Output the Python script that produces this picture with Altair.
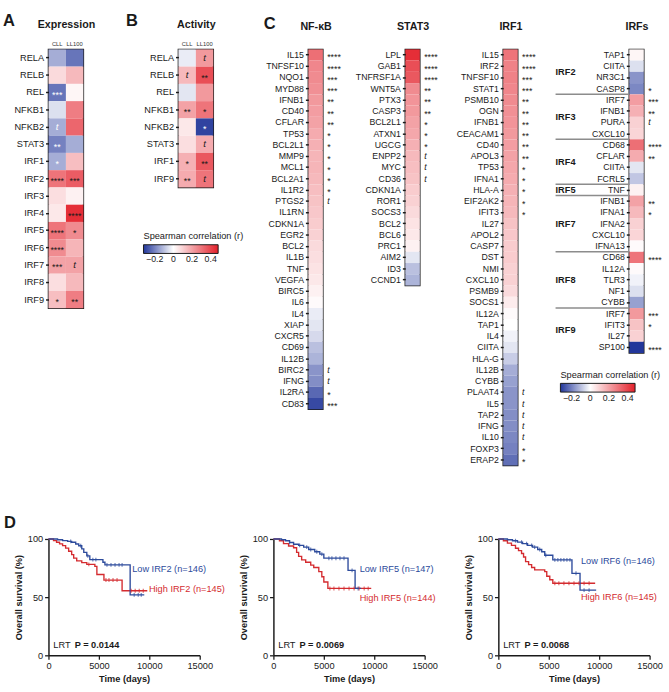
import altair as alt
import pandas as pd

FONT = "Liberation Sans"
INK = "#1a1a1a"
KM_BLUE = "#2d4b9c"
KM_RED = "#d42b2f"

# ---------------- Panel A : expression ----------------
A_genes = ["RELA", "RELB", "REL", "NFKB1", "NFKB2", "STAT3", "IRF1", "IRF2", "IRF3",
           "IRF4", "IRF5", "IRF6", "IRF7", "IRF8", "IRF9"]
A_cll_r = [-0.13, 0.08, -0.22, -0.05, -0.13, -0.20, -0.13, 0.30, 0.07, 0.05, 0.30, 0.25, 0.20, 0.07, 0.14]
A_ll100_r = [-0.22, 0.15, 0.02, 0.28, 0.33, -0.13, 0.14, 0.35, 0.03, 0.45, 0.25, 0.16, 0.20, 0.15, 0.28]
A_cll_sig = ["", "", "***", "", "t", "**", "*", "****", "", "", "****", "****", "***", "", "*"]
A_ll100_sig = ["", "", "", "", "", "", "", "***", "", "****", "*", "", "t", "", "**"]

# ---------------- Panel B : activity ----------------
B_genes = ["RELA", "RELB", "REL", "NFKB1", "NFKB2", "STAT3", "IRF1", "IRF9"]
B_cll_r = [-0.03, 0.15, -0.04, 0.20, 0.05, 0.07, 0.17, 0.18]
B_ll100_r = [0.22, 0.38, 0.22, 0.30, -0.30, 0.18, 0.36, 0.30]
B_cll_sig = ["", "t", "", "**", "", "", "*", "**"]
B_ll100_sig = ["t", "**", "", "*", "*", "t", "**", "t"]

# ---------------- Panel C : target genes ----------------
NF_genes = ["IL15", "TNFSF10", "NQO1", "MYD88", "IFNB1", "CD40", "CFLAR", "TP53", "BCL2L1", "MMP9",
            "MCL1", "BCL2A1", "IL1R2", "PTGS2", "IL1RN", "CDKN1A", "EGR2", "BCL2", "IL1B", "TNF",
            "VEGFA", "BIRC5", "IL6", "IL4", "XIAP", "CXCR5", "CD69", "IL12B", "BIRC2", "IFNG",
            "IL2RA", "CD83"]
NF_r = [0.31, 0.26, 0.25, 0.24, 0.22, 0.21, 0.20, 0.18, 0.17, 0.16, 0.16, 0.15, 0.14, 0.13, 0.12,
        0.11, 0.10, 0.08, 0.07, 0.06, 0.05, 0.03, 0.01, -0.03, -0.04, -0.06, -0.10, -0.12, -0.17,
        -0.18, -0.24, -0.29]
NF_sig = ["****", "****", "***", "***", "**", "**", "**", "*", "*", "*", "*", "*", "*", "t", "",
          "", "", "", "", "", "", "", "", "", "", "", "", "", "t", "t", "*", "***"]

ST_genes = ["LPL", "GAB1", "TNFRSF1A", "WNT5A", "PTX3", "CASP3", "BCL2L1", "ATXN1", "UGCG", "ENPP2",
            "MYC", "CD36", "CDKN1A", "ROR1", "SOCS3", "BCL2", "BCL6", "PRC1", "AIM2", "ID3", "CCND1"]
ST_r = [0.45, 0.38, 0.36, 0.25, 0.23, 0.22, 0.20, 0.19, 0.17, 0.15, 0.14, 0.13, 0.11, 0.10, 0.08,
        0.06, 0.05, 0.03, -0.04, -0.10, -0.12]
ST_sig = ["****", "****", "****", "**", "**", "**", "*", "*", "*", "t", "t", "t", "", "", "", "",
          "", "", "", "", ""]

IRF1_genes = ["IL15", "IRF2", "TNFSF10", "STAT1", "PSMB10", "OGN", "IFNB1", "CEACAM1", "CD40",
              "APOL3", "TP53", "IFNA1", "HLA-A", "EIF2AK2", "IFIT3", "IL27", "APOL2", "CASP7", "DST",
              "NMI", "CXCL10", "PSMB9", "SOCS1", "IL12A", "TAP1", "IL4", "CIITA", "HLA-G", "IL12B",
              "CYBB", "PLAAT4", "IL5", "TAP2", "IFNG", "IL10", "FOXP3", "ERAP2"]
IRF1_r = [0.30, 0.27, 0.27, 0.26, 0.25, 0.24, 0.23, 0.22, 0.21, 0.20, 0.19, 0.18, 0.17, 0.16, 0.15,
          0.13, 0.12, 0.11, 0.11, 0.10, 0.10, 0.08, 0.04, 0.01, 0.00, -0.02, -0.04, -0.08, -0.13,
          -0.15, -0.17, -0.17, -0.18, -0.18, -0.19, -0.20, -0.23]
IRF1_sig = ["****", "****", "***", "***", "**", "**", "**", "**", "**", "**", "*", "*", "*", "*", "*",
            "", "", "", "", "", "", "", "", "", "", "", "", "", "", "", "t", "t", "t", "t", "t", "*", "*"]

IRF_groups = ["IRF2", "IRF3", "IRF4", "IRF5", "IRF7", "IRF8", "IRF9"]
IRF_targets = [["TAP1", "CIITA", "NR3C1", "CASP8"], ["IRF7", "IFNB1", "PURA", "CXCL10"],
               ["CD68", "CFLAR", "CIITA", "FCRL5"], ["TNF"],
               ["IFNB1", "IFNA1", "IFNA2", "CXCL10", "IFNA13"],
               ["CD68", "IL12A", "TLR3", "NF1", "CYBB"], ["IRF7", "IFIT3", "IL27", "SP100"]]
IRF_r = [[0.02, -0.05, -0.17, -0.19], [0.21, 0.17, 0.10, 0.09], [0.31, 0.18, -0.04, -0.09], [0.03],
         [0.20, 0.15, 0.10, 0.09, 0.01], [0.30, 0.01, -0.02, -0.05, -0.15], [0.22, 0.13, 0.10, -0.32]]
IRF_sig = [["", "", "", "*"], ["***", "**", "t", ""], ["****", "**", "", ""], [""],
           ["**", "*", "", "", ""], ["****", "", "", "", ""], ["***", "*", "", "****"]]

# ---------------- Panel D : survival ----------------
D1_lo_t = [0, 900, 1400, 1900, 2300, 2700, 3000, 3300, 3500, 3800, 4100, 5400, 5600, 8100, 9500]
D1_lo_s = [100, 99.3, 98.6, 97.9, 97.2, 95.7, 94.2, 91.5, 88.5, 85.5, 82.3, 80, 77.8, 52, 52]
D1_hi_t = [0, 500, 800, 1100, 1400, 1700, 2000, 2300, 2500, 2800, 3300, 3800, 4600, 4800, 5500, 7300, 9800]
D1_hi_s = [100, 98.6, 97.2, 95.8, 94.3, 92.2, 89.5, 86.5, 83.5, 81.2, 79.7, 78.2, 76.5, 69.5, 64.7, 55.5, 55.5]
D1_lo_cens = [2200, 3200, 3900, 4400, 4700, 5800, 6200, 6600, 7000, 7300, 8500, 8900, 9200]
D1_hi_cens = [4000, 5700, 6000, 6400, 6800, 8200, 8600, 9000, 9400]

D2_lo_t = [0, 800, 1200, 1600, 2000, 2500, 3000, 3500, 4100, 4600, 5000, 7400, 8100, 8700]
D2_lo_s = [100, 99.3, 98.5, 97, 95.5, 94.5, 93, 91, 89, 87, 83.5, 73, 57.5, 57.5]
D2_hi_t = [0, 600, 1000, 1500, 2000, 2300, 2500, 2800, 3200, 3700, 4000, 4500, 4800, 5000, 5400, 9700]
D2_hi_s = [100, 98.5, 96, 94, 92.5, 88.5, 85, 82, 80, 77.5, 75.5, 72, 67.5, 63, 57.5, 57.5]
D2_lo_cens = [1600, 2600, 3300, 3700, 4300, 4800, 5500, 5800, 6200, 6600, 7000, 7800, 8400]
D2_hi_cens = [5600, 6000, 6500, 7000, 7500, 8000, 8500, 9000, 9400]

D3_lo_t = [0, 900, 1400, 1900, 2400, 2900, 3400, 3900, 4300, 4600, 5400, 7300, 8100, 9700]
D3_lo_s = [100, 99.3, 98.5, 97.3, 96, 94.5, 93, 91, 89, 86, 82, 70.5, 56, 56]
D3_hi_t = [0, 500, 900, 1300, 1700, 2000, 2300, 2500, 2700, 3000, 3300, 3600, 4600, 4800, 5100, 5400, 9600]
D3_hi_s = [100, 98.5, 96.5, 94.5, 92, 90, 87.5, 84.5, 80.5, 78, 75.5, 73.5, 72, 68, 65, 62, 62]
D3_lo_cens = [1700, 2300, 2800, 3300, 3600, 4100, 4700, 5600, 5900, 6200, 6500, 6800, 7100, 7700, 8500, 9000]
D3_hi_cens = [5600, 6000, 6500, 7000, 7500, 8000, 8500, 9000]

D_labels = [("Low IRF2 (n=146)", "High IRF2 (n=145)", "0.0144"),
            ("Low IRF5 (n=147)", "High IRF5 (n=144)", "0.0069"),
            ("Low IRF6 (n=146)", "High IRF6 (n=145)", "0.0068")]
# annotation anchor points in data units (time, survival)
D_lo_label_at = [(8300, 74.4), (8550, 74.4), (8190, 81.4)]
D_hi_label_at = [(9960, 57.2), (8550, 49.4), (8190, 50.3)]
D_lrt_at = (480, 9)

COLOR_SCALE = alt.Scale(domain=[-0.32, 0, 0.48], range=["#22369a", "#ffffff", "#e3202a"],
                        interpolate="rgb")


def spearman_legend(lx, ly):
    return alt.Legend(orient="none", legendX=lx, legendY=ly, direction="horizontal",
                      title="Spearman correlation (r)", titleFont=FONT, titleFontSize=9.5,
                      titleFontWeight="normal", titleColor=INK, titlePadding=4,
                      gradientLength=77, gradientThickness=9, gradientStrokeColor=INK,
                      gradientStrokeWidth=1, values=[-0.2, 0, 0.2, 0.4], labelFont=FONT,
                      labelFontSize=9, labelColor=INK, labelOverlap=False,
                      labelExpr="datum.value == 0 ? '0' : format(datum.value, '.1f')")


def panel_letter(txt, px, py, visible=True):
    """Panel letter, placed in pixels relative to the panel's plot origin."""
    return alt.Chart(pd.DataFrame({"letter": [txt]})).mark_text(
        align="left", baseline="top", font=FONT, fontSize=17, fontWeight="bold",
        color=INK, opacity=1 if visible else 0).encode(
        text="letter:N", x=alt.value(px), y=alt.value(py))


def two_col(genes, r_cll, r_ll, s_cll, s_ll, head, letter_layer, left_ext, right_ext, legend):
    rows = []
    for g, a, b, sa, sb in zip(genes, r_cll, r_ll, s_cll, s_ll):
        rows.append(dict(gene=g, col="CLL", r=a, sig=sa))
        rows.append(dict(gene=g, col="LL100", r=b, sig=sb))
    df = pd.DataFrame(rows)
    yscale = alt.Scale(domain=genes, paddingInner=0, paddingOuter=0)
    x = alt.X("col:N", scale=alt.Scale(domain=["CLL", "LL100"], paddingInner=0, paddingOuter=0),
              axis=alt.Axis(orient="top", title=head, titleFont=FONT, titleFontSize=11,
                            titleFontWeight="bold", titleColor=INK, titlePadding=10,
                            labelFont=FONT, labelFontSize=6, labelColor="#333", labelAngle=0,
                            labelPadding=3, ticks=False, domain=False, minExtent=11,
                            maxExtent=11))
    y_left = alt.Y("gene:N", scale=yscale,
                   axis=alt.Axis(title=None, labelFont=FONT, labelFontSize=9.5, labelColor=INK,
                                 labelPadding=2, tickSize=3, tickWidth=1.5, tickColor=INK,
                                 domain=False, minExtent=left_ext))
    y_none = alt.Y("gene:N", scale=yscale, axis=None)
    y_right = alt.Y("gene:N", scale=yscale,
                    axis=alt.Axis(orient="right", title=None, labelExpr="''", ticks=False,
                                  domain=False, minExtent=right_ext, maxExtent=right_ext))
    base = alt.Chart(df)
    cells = base.mark_rect().encode(x=x, y=y_left,
                                    color=alt.Color("r:Q", scale=COLOR_SCALE, legend=legend))
    txt_color = alt.condition(alt.datum.r < -0.1, alt.value("white"), alt.value(INK))
    stars = base.transform_filter("datum.sig != '' && datum.sig != 't'").mark_text(
        font=FONT, fontSize=9, baseline="middle", dy=2.5).encode(
        x=x, y=y_none, text="sig:N", color=txt_color)
    tees = base.transform_filter("datum.sig == 't'").mark_text(
        font=FONT, fontSize=10, fontStyle="italic", baseline="middle").encode(
        x=x, y=y_none, text="sig:N", color=txt_color)
    dummy = base.mark_rect(opacity=0).encode(x=x, y=y_right)
    return alt.layer(cells, stars, tees, dummy, letter_layer).resolve_axis(
        y="independent").properties(width=36, height=len(genes) * 17.8)


ROW_C = 11.6


def one_col(genes, rs, sigs, head, letter_layer, left_ext, right_ext, legend=None, groups=None):
    keys = [f"{i:02d}|{g}|{s}" for i, (g, s) in enumerate(zip(genes, sigs))]
    df = pd.DataFrame({"key": keys, "r": rs, "col": ["v"] * len(keys)})
    yscale = alt.Scale(domain=keys, paddingInner=0, paddingOuter=0)
    x = alt.X("col:N", scale=alt.Scale(paddingInner=0, paddingOuter=0),
              axis=alt.Axis(orient="top", title=head, titleFont=FONT, titleFontSize=11,
                            titleFontWeight="bold", titleColor=INK, titlePadding=10,
                            labels=False, ticks=False, domain=False, minExtent=8, maxExtent=8))
    is_t = "split(datum.value, '|')[2] == 't'"
    y_left = alt.Y("key:N", scale=yscale,
                   axis=alt.Axis(title=None, labelExpr="split(datum.value, '|')[1]",
                                 labelFont=FONT, labelFontSize=9, labelColor=INK,
                                 labelPadding=2, tickSize=3, tickWidth=1.5, tickColor=INK,
                                 domain=False, minExtent=left_ext))
    y_right = alt.Y("key:N", scale=yscale,
                    axis=alt.Axis(orient="right", title=None,
                                  labelExpr="split(datum.value, '|')[2]",
                                  labelFont=FONT, labelFontSize=9, labelColor=INK,
                                  labelPadding=4, ticks=False, domain=False,
                                  labelFontStyle={"condition": {"test": is_t, "value": "italic"},
                                                  "value": "normal"},
                                  labelOffset={"condition": {"test": is_t, "value": 0},
                                               "value": 2.5},
                                  minExtent=right_ext, maxExtent=right_ext))
    base = alt.Chart(df)
    cells = base.mark_rect().encode(x=x, y=y_left,
                                    color=alt.Color("r:Q", scale=COLOR_SCALE, legend=legend))
    dummy = base.mark_rect(opacity=0).encode(x=x, y=y_right)
    layers = [cells, dummy, letter_layer]
    if groups is not None:
        names, sizes = groups
        starts = []
        pos = 0
        for n in sizes:
            starts.append(pos)
            pos += n
        sep_df = pd.DataFrame({"key": [keys[s] for s in starts[1:]]})
        rules = alt.Chart(sep_df).mark_rule(color="#8c8c8c", strokeWidth=1.6).encode(
            y=alt.Y("key:N", scale=yscale, axis=None, bandPosition=0),
            x=alt.value(-76), x2=alt.value(0))
        even = [(nm, keys[s + n // 2]) for nm, s, n in zip(names, starts, sizes) if n % 2 == 0]
        odd = [(nm, keys[s + n // 2]) for nm, s, n in zip(names, starts, sizes) if n % 2 == 1]
        lab_style = dict(align="left", baseline="middle", font=FONT, fontSize=9.5,
                         fontWeight="bold", color=INK)
        lab_even = alt.Chart(pd.DataFrame(even, columns=["grp", "key"])).mark_text(
            **lab_style).encode(y=alt.Y("key:N", scale=yscale, axis=None, bandPosition=0),
                                x=alt.value(-76), text="grp:N")
        lab_odd = alt.Chart(pd.DataFrame(odd, columns=["grp", "key"])).mark_text(
            **lab_style).encode(y=alt.Y("key:N", scale=yscale, axis=None, bandPosition=0.5),
                                x=alt.value(-76), text="grp:N")
        layers += [rules, lab_even, lab_odd]
    return alt.layer(*layers).resolve_axis(y="independent").properties(
        width=15, height=len(genes) * ROW_C)


def step_at(ts, ss, t):
    v = ss[0]
    for a, b in zip(ts, ss):
        if a <= t:
            v = b
    return v


def km_panel(lo_t, lo_s, hi_t, hi_s, lo_c, hi_c, labels, lo_at, hi_at, letter_layer=None):
    lo_lab, hi_lab, pval = labels
    x = alt.X("t:Q", scale=alt.Scale(domain=[0, 15000], nice=False),
              axis=alt.Axis(values=[0, 5000, 10000, 15000], format="d", title="Time (days)",
                            grid=False, labelFont=FONT, labelFontSize=9.5, labelColor=INK,
                            titleFont=FONT, titleFontSize=9.5, titleFontWeight="bold",
                            titleColor=INK, titlePadding=4, domainColor=INK, domainWidth=1.5,
                            tickColor=INK, tickWidth=1.3, tickSize=4, labelFlush=False))
    y = alt.Y("s:Q", scale=alt.Scale(domain=[0, 100], nice=False),
              axis=alt.Axis(values=[0, 50, 100], title="Overall survival (%)", grid=False,
                            labelFont=FONT, labelFontSize=9.5, labelColor=INK, titleFont=FONT,
                            titleFontSize=9.5, titleFontWeight="bold", titleColor=INK,
                            titlePadding=4, domainColor=INK, domainWidth=1.5, tickColor=INK,
                            tickWidth=1.3, tickSize=4))
    lo = pd.DataFrame({"t": lo_t, "s": lo_s})
    hi = pd.DataFrame({"t": hi_t, "s": hi_s})
    lo_cd = pd.DataFrame({"t": lo_c, "s": [step_at(lo_t, lo_s, t) for t in lo_c]})
    hi_cd = pd.DataFrame({"t": hi_c, "s": [step_at(hi_t, hi_s, t) for t in hi_c]})
    line_hi = alt.Chart(hi).mark_line(interpolate="step-after", color=KM_RED,
                                      strokeWidth=1.4).encode(x=x, y=y)
    line_lo = alt.Chart(lo).mark_line(interpolate="step-after", color=KM_BLUE,
                                      strokeWidth=1.4).encode(x="t:Q", y="s:Q")
    tick_hi = alt.Chart(hi_cd).mark_tick(orient="vertical", color=KM_RED, size=4,
                                         thickness=1.2).encode(x="t:Q", y="s:Q")
    tick_lo = alt.Chart(lo_cd).mark_tick(orient="vertical", color=KM_BLUE, size=4,
                                         thickness=1.2).encode(x="t:Q", y="s:Q")
    ann = pd.DataFrame({"t": [lo_at[0], hi_at[0]], "s": [lo_at[1], hi_at[1]],
                        "label": [lo_lab, hi_lab], "grp": ["lo", "hi"]})
    txt_lo = alt.Chart(ann).transform_filter("datum.grp == 'lo'").mark_text(
        align="left", baseline="middle", font=FONT, fontSize=9.5, color=KM_BLUE).encode(
        x="t:Q", y="s:Q", text="label:N")
    txt_hi = alt.Chart(ann).transform_filter("datum.grp == 'hi'").mark_text(
        align="left", baseline="middle", font=FONT, fontSize=9.5, color=KM_RED).encode(
        x="t:Q", y="s:Q", text="label:N")
    lrt_df = pd.DataFrame({"t": [D_lrt_at[0]], "s": [D_lrt_at[1]], "a": ["LRT"],
                           "b": ["P = " + pval]})
    lrt_a = alt.Chart(lrt_df).mark_text(align="left", baseline="middle", font=FONT,
                                        fontSize=9.5, color=INK).encode(
        x="t:Q", y="s:Q", text="a:N")
    lrt_b = alt.Chart(lrt_df).mark_text(align="left", baseline="middle", font=FONT,
                                        fontSize=9.5, fontWeight="bold", color=INK,
                                        dx=22).encode(x="t:Q", y="s:Q", text="b:N")
    layers = [line_hi, line_lo, tick_hi, tick_lo, txt_lo, txt_hi, lrt_a, lrt_b]
    if letter_layer is not None:
        layers.append(letter_layer)
    return alt.layer(*layers).properties(width=156, height=120,
                                         view=alt.ViewBackground(stroke="transparent"))


chartA = two_col(A_genes, A_cll_r, A_ll100_r, A_cll_sig, A_ll100_sig, "Expression",
                 panel_letter("A", -47, -37), 47, 15, None)
chartB = two_col(B_genes, B_cll_r, B_ll100_r, B_cll_sig, B_ll100_sig, "Activity",
                 panel_letter("B", -54, -37), 81, 40, spearman_legend(-36, 188))
chartNF = one_col(NF_genes, NF_r, NF_sig, "NF-κB", panel_letter("C", -46, -34), 56, 25)
chartST = one_col(ST_genes, ST_r, ST_sig, "STAT3", panel_letter("C", -46, -34, False), 58, 25)
chartIRF1 = one_col(IRF1_genes, IRF1_r, IRF1_sig, "IRF1", panel_letter("C", -46, -34, False),
                    59, 25)
irf_genes = [g for grp in IRF_targets for g in grp]
irf_r = [v for grp in IRF_r for v in grp]
irf_sig = [v for grp in IRF_sig for v in grp]
chartIRFs = one_col(irf_genes, irf_r, irf_sig, "IRFs", panel_letter("C", -46, -34, False), 88, 25,
                    legend=spearman_legend(-71, 331),
                    groups=(IRF_groups, [len(g) for g in IRF_targets]))

top_row = alt.hconcat(chartA, chartB, chartNF, chartST, chartIRF1, chartIRFs,
                      spacing=0).resolve_legend(color="independent")

d1 = km_panel(D1_lo_t, D1_lo_s, D1_hi_t, D1_hi_s, D1_lo_cens, D1_hi_cens, D_labels[0],
              D_lo_label_at[0], D_hi_label_at[0], panel_letter("D", -46, -24))
d2 = km_panel(D2_lo_t, D2_lo_s, D2_hi_t, D2_hi_s, D2_lo_cens, D2_hi_cens, D_labels[1],
              D_lo_label_at[1], D_hi_label_at[1])
d3 = km_panel(D3_lo_t, D3_lo_s, D3_hi_t, D3_hi_s, D3_lo_cens, D3_hi_cens, D_labels[2],
              D_lo_label_at[2], D_hi_label_at[2])
bottom_row = alt.hconcat(d1, d2, d3, spacing=76, bounds="flush")

chart = alt.vconcat(top_row, bottom_row, spacing=47).properties(
    padding={"left": 2, "top": 1, "right": 0, "bottom": 0}
).configure(font=FONT).configure_view(stroke=INK, strokeWidth=1.5)

chart.save("out.html", embed_options={"renderer": "svg", "actions": False})
